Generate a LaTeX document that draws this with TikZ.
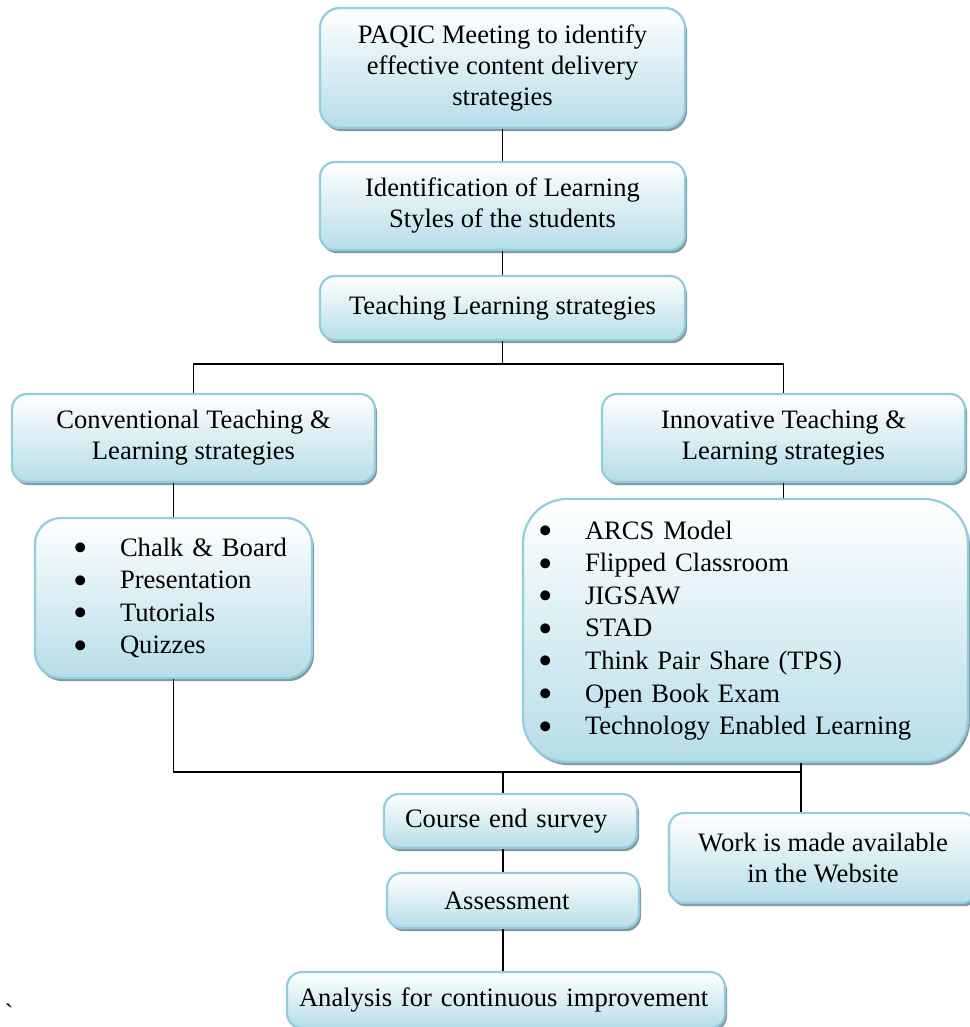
\documentclass[tikz,border=0pt]{standalone}
\usepackage{fontspec}
\usepackage{graphicx}
\setmainfont{Liberation Serif}
\usetikzlibrary{shadows}
\definecolor{boxblue}{RGB}{182,221,232}
\definecolor{bordercol}{RGB}{146,205,221}
\definecolor{shadowcol}{RGB}{128,153,163}
\tikzset{
  box/.style={rectangle, rounded corners=7.5pt, draw=bordercol, line width=1.1pt,
    top color=white, bottom color=boxblue,
    drop shadow={shadow xshift=1pt, shadow yshift=-1.6pt, fill=shadowcol, opacity=1},
    align=center, inner sep=0pt, font=\fontsize{13.3}{15.5}\selectfont},
  listbox/.style={box, align=left, font=\fontsize{13.3}{16.3}\selectfont},
  conn/.style={draw=black, line width=0.8pt},
}
\newcommand{\bul}[1]{\mbox{\makebox[23.5pt][l]{\smash{\raisebox{-0.45ex}{\scalebox{1.55}{\textbullet}}}}#1}}
\begin{document}
\begin{tikzpicture}[x=0.5pt,y=-0.5pt]
\useasboundingbox (0,0) rectangle (969,1027);

\node[box, rounded corners=10pt, minimum width=182.5pt, minimum height=60pt] (b1) at (502.5,68)
  {PAQIC Meeting to identify\\effective content delivery\\strategies};
\node[box, minimum width=182.5pt, minimum height=44pt] (b2) at (502.5,206)
  {Identification of Learning\\Styles of the students};
\node[box, minimum width=182.5pt, minimum height=32pt] (b3) at (502.5,308)
  {Teaching Learning strategies};
\node[box, minimum width=181.5pt, minimum height=44pt] (b4) at (193.5,438)
  {Conventional Teaching \&\\Learning strategies};
\node[box, minimum width=181.5pt, minimum height=44pt] (b5) at (783.5,438)
  {Innovative Teaching \&\\Learning strategies};
\node[listbox, rounded corners=13pt, inner xsep=19pt, text width=100.5pt, minimum height=80pt] (b6) at (173.5,598)
  {\bul{Chalk \& Board}\\\bul{Presentation}\\\bul{Tutorials}\\\bul{Quizzes}};
\node[listbox, rounded corners=22pt, inner xsep=7.5pt, text width=207.5pt, minimum height=131.5pt] (b7) at (745.5,630.5)
  {\bul{ARCS Model}\\\bul{Flipped Classroom}\\\bul{JIGSAW}\\\bul{STAD}\\\bul{Think Pair Share (TPS)}\\\bul{Open Book Exam}\\\bul{Technology Enabled Learning}};
\node[box, align=left, inner xsep=10.5pt, text width=105.5pt, minimum height=27pt] (b8) at (510.5,821)
  {Course end survey};
\node[box, align=left, inner xsep=28.5pt, text width=69pt, minimum height=27.5pt] (b9) at (513,900.5)
  {Assessment};
\node[box, align=left, inner xsep=6pt, text width=207pt, minimum height=28pt] (b10) at (506,1000)
  {Analysis for continuous improvement};
\node[box, minimum width=154pt, minimum height=45pt] (b11) at (823,858)
  {Work is made available\\in the Website};
\node[font=\fontsize{13.3}{15}\selectfont, inner sep=0pt] (tick) at (9,1013) {\textasciigrave};

\coordinate (j1) at (502.5,364);
\coordinate (j2) at (801,772);
\coordinate (j4) at (503,772);

\draw[conn] (b1) -- (b2);
\draw[conn] (b2) -- (b3);
\draw[conn] (b3.south) -- (j1);
\draw[conn] (b4.north) |- (j1) -| (b5.north);
\draw[conn] (b6.north) -- (b6.north |- b4.south);
\draw[conn] (b5.south) -- (b5.south |- b7.north);
\draw[conn] (b6.south) |- (j2);
\draw[conn] (j2 |- b7.south) -- (j2 |- b11.north);
\draw[conn] (j4) -- (j4 |- b8.north);
\draw[conn] (j4 |- b8.south) -- (j4 |- b9.north);
\draw[conn] (j4 |- b9.south) -- (j4 |- b10.north);
\end{tikzpicture}
\end{document}
